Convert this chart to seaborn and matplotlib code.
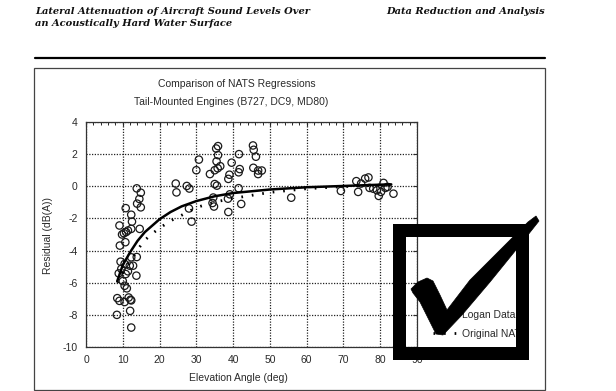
import matplotlib
matplotlib.use("Agg")
import matplotlib.pyplot as plt
from matplotlib.patches import Rectangle, Polygon
from matplotlib.lines import Line2D
import seaborn as sns

# Measured residuals: elevation angle (deg) and residual level (dB(A))
angle_pts = [
    10.8, 12.3, 13.8, 14.9, 14.5, 13.9, 14.9,
    12.5, 9.1, 9.8, 10.9, 12.3, 11.4, 10.3, 10.7, 9.2, 14.6,
    13.8, 12.3, 9.4, 10.5, 12.8, 11.9, 9.6, 11.4, 10.8, 13.7, 8.9, 10.0,
    10.5, 11.1, 8.5, 9.1, 10.5, 11.6, 12.1, 12.3, 12.0, 8.4, 12.3,
    24.4, 24.6, 27.4, 28.1, 28.0, 28.7, 30.0, 30.7, 33.7, 35.0, 35.4, 35.9,
    35.9, 35.5, 35.8, 36.5, 35.0, 35.6, 34.6, 34.4, 34.8, 38.7, 39.0, 39.6,
    41.6, 41.8, 41.5, 41.5, 39.1, 38.6, 42.2, 38.7, 45.4, 45.6, 46.2, 45.5,
    46.8, 46.8, 47.8, 55.8,
    69.3, 73.5, 74.0, 74.8, 75.9, 76.8, 77.1, 78.1, 79.1, 79.6, 80.2, 80.9,
    81.4, 82.0, 83.6,
]
resid_pts = [
    -1.36, -1.77, -0.13, -0.40, -0.79, -1.08, -1.31,
    -2.20, -2.44, -3.00, -2.85, -2.65, -2.75, -2.92, -3.48, -3.69, -2.65,
    -4.40, -4.42, -4.69, -4.83, -4.94, -4.94, -5.14, -5.29, -5.46, -5.56, -5.42, -5.90,
    -6.19, -6.35, -6.96, -7.13, -7.20, -6.92, -7.06, -7.10, -7.75, -8.00, -8.79,
    0.17, -0.38, 0.02, -0.14, -1.38, -2.20, 1.00, 1.66, 0.76, 1.00, 2.35, 2.50,
    1.94, 1.55, 1.12, 1.25, 0.14, 0.04, -0.70, -1.04, -1.26, 0.46, 0.72, 1.47,
    2.00, 1.07, 0.87, -0.12, -0.50, -0.77, -1.10, -1.60, 2.54, 2.27, 1.84, 1.15,
    0.98, 0.76, 0.98, -0.71,
    -0.29, 0.32, -0.35, 0.17, 0.48, 0.55, -0.10, -0.15, -0.25, -0.60, -0.35, 0.21,
    -0.10, -0.04, -0.46,
]

# Regression curves
fit_angle = [8.5, 10, 12, 14, 16, 18, 20, 23, 26, 30, 35, 40, 50, 60, 70, 80, 83]
logan_fit = [-5.9, -4.9, -4.1, -3.4, -2.85, -2.45, -2.05, -1.6, -1.25, -0.92,
             -0.62, -0.42, -0.2, -0.06, 0.02, 0.1, 0.12]
nats_fit = [-6.0, -5.4, -4.7, -3.95, -3.35, -2.95, -2.6, -2.15, -1.8, -1.32,
            -0.98, -0.75, -0.38, -0.15, -0.02, 0.08, 0.1]

x_ticks = [0, 10, 20, 30, 40, 50, 60, 70, 80, 90]
y_ticks = [-10, -8, -6, -4, -2, 0, 2, 4]

sns.set_style("white")
plt.rcParams["font.family"] = ["Liberation Sans", "DejaVu Sans"]
plt.rcParams["axes.unicode_minus"] = False

W, H = 616, 391
fig = plt.figure(figsize=(W / 100, H / 100), dpi=100)


def fx(px):
    return px / W


def fy(py):
    return 1 - py / H


ax = fig.add_axes([fx(86), fy(347), fx(417) - fx(86), fy(122) - fy(347)])

ink = "#2a2a2a"

sns.scatterplot(x=angle_pts, y=resid_pts, ax=ax, marker="o", s=28,
                facecolor="none", edgecolor="#1a1a1a", linewidth=0.9,
                zorder=3, legend=False)
sns.lineplot(x=fit_angle, y=logan_fit, ax=ax, color="black", linewidth=1.8,
             sort=False, estimator=None, zorder=4)
sns.lineplot(x=fit_angle, y=nats_fit, ax=ax, color="black", linewidth=2.0,
             linestyle=(0, (0.6, 3.2)), sort=False, estimator=None, zorder=4)

ax.set_xlim(0, 90)
ax.set_ylim(-10, 4)
ax.set_xticks(x_ticks)
ax.set_yticks(y_ticks)
ax.set_xticks(range(0, 91, 2), minor=True)
ax.grid(True, which="major", color="#222222", linestyle=(0, (1, 1.2)),
        linewidth=0.9)
ax.tick_params(which="major", direction="in", length=3, width=0.8,
               labelsize=7.5, labelcolor=ink, colors=ink, pad=6,
               top=True, right=True)
ax.tick_params(which="minor", direction="in", length=2.5, width=0.7,
               colors=ink, top=True)
for sp in ax.spines.values():
    sp.set_color("#333333")
    sp.set_linewidth(0.9)
ax.set_xlabel("")
ax.set_ylabel("")

# Page header
hdr = dict(family=["DejaVu Serif"], weight="bold",
           style="italic", fontsize=7.1, color="#111111", va="center")
fig.text(fx(35), fy(12), "Lateral Attenuation of Aircraft Sound Levels Over", **hdr)
fig.text(fx(35), fy(24), "an Acoustically Hard Water Surface", **hdr)
fig.text(fx(545), fy(12), "Data Reduction and Analysis", ha="right", **hdr)
fig.add_artist(Line2D([fx(35), fx(545)], [fy(58), fy(58)], color="black",
                      linewidth=1.6))
fig.add_artist(Rectangle((fx(34), fy(390)), fx(545) - fx(34), fy(68) - fy(390),
                         fill=False, edgecolor="#444444", linewidth=0.9))

# Chart titles and axis labels
lab = dict(fontsize=7.5, color=ink, ha="center", va="center")
fig.text(fx(237), fy(84), "Comparison of NATS Regressions", **lab)
fig.text(fx(231), fy(102), "Tail-Mounted Engines (B727, DC9, MD80)", **lab)
fig.text(fx(238), fy(378), "Elevation Angle (deg)", **lab)
fig.text(fx(48), fy(236), "Residual (dB(A))", rotation=90, **lab)

# Legend
handles = [
    Line2D([], [], color="black", linewidth=1.8),
    Line2D([], [], color="black", linewidth=2.0, linestyle=(0, (0.6, 3.2))),
]
fig.legend(handles, ["Logan Data", "Original NATS"], loc="upper left",
           bbox_to_anchor=(fx(433), fy(310)), frameon=False, fontsize=7.5,
           handlelength=2.2, handletextpad=0.6, labelspacing=0.85,
           labelcolor=ink, borderaxespad=0, borderpad=0)

# Check box stamp over the legend corner
fig.add_artist(Rectangle((fx(398.5), fy(352.5)), fx(521.5) - fx(398.5),
                         fy(229.5) - fy(352.5), fill=False, edgecolor="black",
                         linewidth=13 * 0.72, joinstyle="miter", zorder=20))
check = [(411, 289), (418, 282), (427, 278), (433, 281), (440, 295), (447, 310),
         (470, 280), (500, 250), (528, 222), (536, 216), (539, 221), (520, 245),
         (490, 282), (462, 315), (443, 335), (436, 334), (428, 318), (420, 302),
         (413, 293)]
fig.add_artist(Polygon([(fx(a), fy(b)) for a, b in check], closed=True,
                       facecolor="black", edgecolor="black", linewidth=0.5,
                       zorder=21))

fig.savefig("out.png", dpi=100, facecolor="white")
